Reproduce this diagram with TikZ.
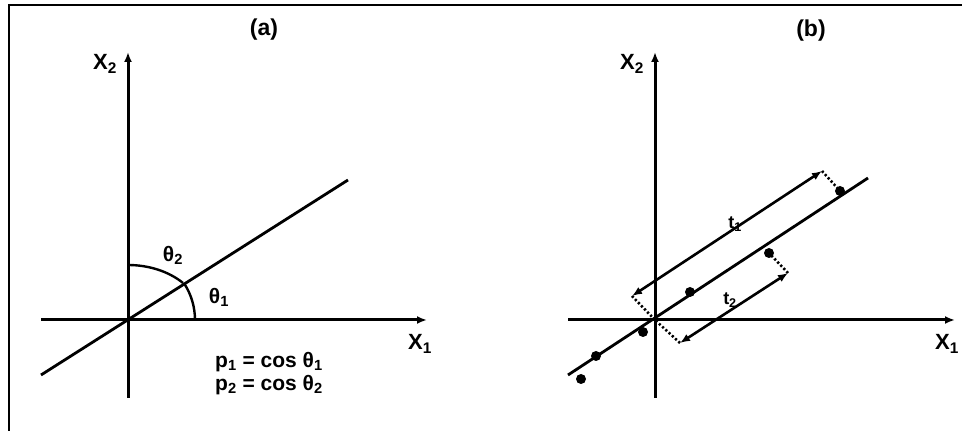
\documentclass[tikz,border=0pt]{standalone}
\usepackage{fontspec}
\setmainfont{Liberation Sans}
\usetikzlibrary{arrows.meta}
\begin{document}
\begin{tikzpicture}[x=1pt,y=1pt,
  tip/.tip={Latex[length=10pt,width=8pt]},
  axis/.style={line width=3pt,-tip},
  ln/.style={line width=2.8pt},
  angarc/.style={line width=2.4pt},
  dbl/.style={line width=2.6pt,tip-tip},
  dotline/.style={line width=2.6pt,dash pattern=on 2.2pt off 2.2pt},
  pt/.style={circle,fill,inner sep=0pt,minimum size=10pt},
  lbl/.style={font=\fontsize{22}{24}\selectfont\bfseries,inner sep=0pt},
  ttl/.style={font=\fontsize{23}{25}\selectfont\bfseries,inner sep=0pt},
  thl/.style={font=\fontsize{21}{23}\selectfont\bfseries,inner sep=0pt},
  frm/.style={font=\fontsize{21}{23}\selectfont\bfseries,inner sep=0pt,anchor=west},
  tl/.style={font=\fontsize{18}{20}\selectfont\bfseries,inner sep=0pt}]
\useasboundingbox (0,0) rectangle (962,431);
% frame
\coordinate (f1) at (9,0);
\coordinate (f2) at (9,426);
\coordinate (f3) at (962,426);
\draw[line width=2.6pt] (f1) -- (f2) -- (f3);

% ---------- panel (a) ----------
\coordinate (Oa) at (128,111);
\coordinate (ay0) at (128,33);
\coordinate (ay1) at (128,379);
\coordinate (ax0) at (41,111);
\coordinate (ax1) at (427,111);
\coordinate (al0) at (41,56);
\coordinate (al1) at (348,251);
\draw[axis] (ay0) -- (ay1);
\draw[axis] (ax0) -- (ax1);
\draw[ln] (al0) -- (al1);
\coordinate (t1s) at (195,111);
\coordinate (t2s) at (128,166);
\draw[angarc] (t1s) arc[start angle=0,end angle=33,radius=67];
\draw[angarc] (t2s) arc[start angle=90,end angle=42.3,x radius=74.4,y radius=55];
\node[ttl] (ta) at (264,401) {(a)};
\node[lbl] (x2a) at (105,367) {X\textsubscript{2}};
\node[lbl] (x1a) at (420,87) {X\textsubscript{1}};
\node[thl] (th2) at (173,176) {θ\textsubscript{2}};
\node[thl] (th1) at (219,134) {θ\textsubscript{1}};
\node[frm] (p1) at (215,69) {p\textsubscript{1} = cos θ\textsubscript{1}};
\node[frm] (p2) at (215,46) {p\textsubscript{2} = cos θ\textsubscript{2}};

% ---------- panel (b) ----------
\coordinate (Ob) at (655,111);
\coordinate (by0) at (655,33);
\coordinate (by1) at (655,379);
\coordinate (bx0) at (568,111);
\coordinate (bx1) at (955,111);
\coordinate (bl0) at (568,56);
\coordinate (bl1) at (868,253);
\draw[axis] (by0) -- (by1);
\draw[axis] (bx0) -- (bx1);
\draw[ln] (bl0) -- (bl1);
% data points
\node[pt] (d1) at (769,178) {};
\node[pt] (d2) at (840,240) {};
\node[pt] (d3) at (690,139) {};
\node[pt] (d4) at (643,99) {};
\node[pt] (d5) at (596,75) {};
\node[pt] (d6) at (581,52) {};
% score arrows
\coordinate (u0) at (632,135);
\coordinate (u1) at (822,260);
\coordinate (v0) at (680,88);
\coordinate (v1) at (788,158);
\draw[dbl] (u0) -- (u1);
\draw[dbl] (v0) -- (v1);
\draw[dotline] (u0) -- (Ob);
\draw[dotline] (u1) -- (d2.center);
\draw[dotline] (v0) -- (Ob);
\draw[dotline] (v1) -- (d1.center);
\node[tl] (lt1) at (735,207) {t\textsubscript{1}};
\node[tl] (lt2) at (730,131) {t\textsubscript{2}};
\node[ttl] (tb) at (811,400) {(b)};
\node[lbl] (x2b) at (632,367) {X\textsubscript{2}};
\node[lbl] (x1b) at (947,87) {X\textsubscript{1}};
\end{tikzpicture}
\end{document}
